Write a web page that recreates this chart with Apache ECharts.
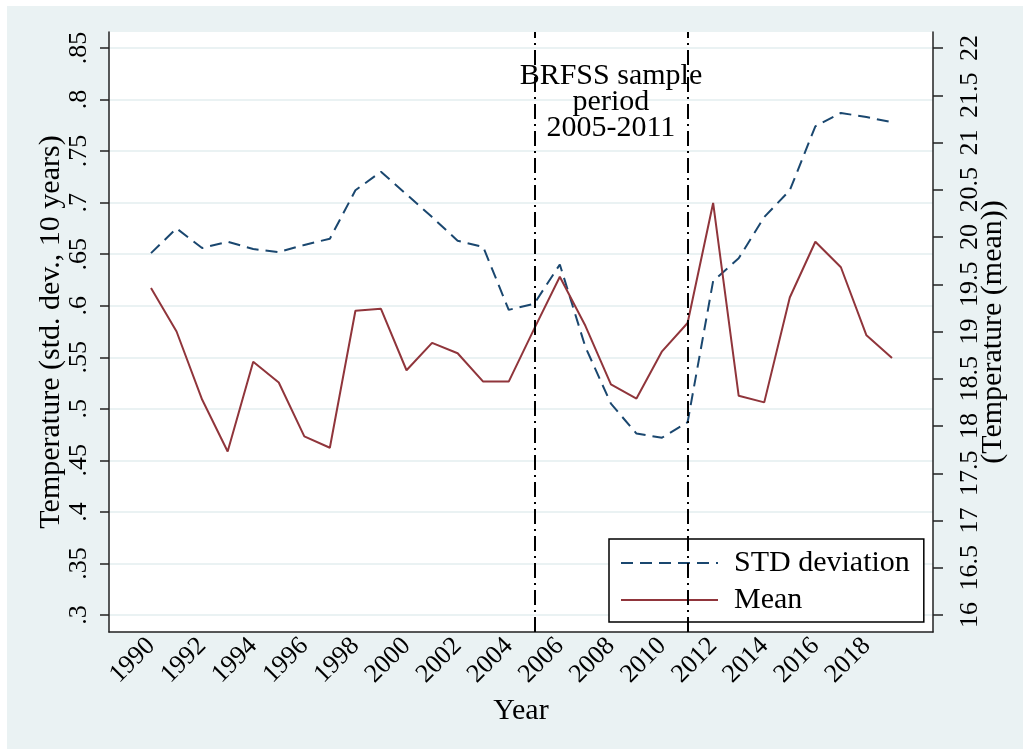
<!DOCTYPE html>
<html>
<head>
<meta charset="utf-8">
<script src="https://cdn.jsdelivr.net/npm/echarts@6/dist/echarts.min.js"></script>
<style>
  html, body { margin: 0; padding: 0; background: #fff; }
  #chart { width: 1023px; height: 749px; }
</style>
</head>
<body>
<div id="chart"></div>
<script>
// data
const years = [1990, 1991, 1992, 1993, 1994, 1995, 1996, 1997, 1998, 1999,
               2000, 2001, 2002, 2003, 2004, 2005, 2006, 2007, 2008, 2009,
               2010, 2011, 2012, 2013, 2014, 2015, 2016, 2017, 2018, 2019];
const stdDev = [0.651, 0.675, 0.656, 0.662, 0.655, 0.652, 0.659, 0.665, 0.712, 0.730,
                0.708, 0.686, 0.663, 0.657, 0.596, 0.602, 0.640, 0.560, 0.505, 0.476,
                0.472, 0.487, 0.624, 0.646, 0.686, 0.712, 0.774, 0.787, 0.783, 0.778];
const meanTemp = [19.46, 19.00, 18.28, 17.73, 18.68, 18.46, 17.89, 17.77, 19.22, 19.24,
                  18.59, 18.88, 18.77, 18.47, 18.47, 19.03, 19.58, 19.06, 18.44, 18.29,
                  18.79, 19.09, 20.36, 18.32, 18.25, 19.36, 19.95, 19.68, 18.96, 18.72];
const periodYears = [2005, 2011];
const periodNote = ['BRFSS sample', 'period', '2005-2011'];
const seriesNames = ['STD deviation', 'Mean'];

const FONT = 'Liberation Serif';
const NAVY = '#1A476F';
const MAROON = '#90353B';
const PANEL = '#EAF2F3';
const AXIS = '#222';

// full plot region in years (1990 sits 42px right of the left edge, 25.55px per year)
const X0 = 1990 - 42 / 25.55;
const X1 = 2019 + 41 / 25.55;

const chart = echarts.init(document.getElementById('chart'));

const option = {
  backgroundColor: '#fff',
  animation: false,
  textStyle: { fontFamily: FONT, color: '#000' },
  graphic: [{
    type: 'rect', z: -10, silent: true,
    shape: { x: 7, y: 6, width: 1016, height: 743 },
    style: { fill: PANEL }
  }],
  grid: [
    // frame / plot region
    { left: 109, right: 90, top: 32, bottom: 117, show: true, backgroundColor: '#fff', borderWidth: 0 },
    // data area (tick range .3-.85 / 16-22)
    { left: 109, right: 90, top: 48, bottom: 134 },
    // year labels 1990-2018
    { left: 151, right: 156.5, top: 32, bottom: 117 }
  ],
  xAxis: [
    {
      gridIndex: 0, type: 'value', min: X0, max: X1, position: 'bottom',
      axisLine: { show: true, onZero: false, lineStyle: { color: AXIS, width: 1.5 } },
      axisTick: { show: false }, axisLabel: { show: false }, splitLine: { show: false },
      name: 'Year', nameLocation: 'middle', nameGap: 64,
      nameTextStyle: { fontFamily: FONT, fontSize: 30, color: '#000' }
    },
    { gridIndex: 1, type: 'value', min: X0, max: X1, show: false },
    {
      gridIndex: 2, type: 'value', min: 1990, max: 2018, interval: 2, position: 'bottom',
      axisLine: { show: false }, axisTick: { show: false }, splitLine: { show: false },
      axisLabel: {
        rotate: 45, margin: 10, fontFamily: FONT, fontSize: 26, color: '#000',
        showMinLabel: true, showMaxLabel: true,
        formatter: v => String(v)
      }
    }
  ],
  yAxis: [
    {
      gridIndex: 0, type: 'value', min: 0, max: 1, position: 'left',
      axisLine: { show: true, onZero: false, lineStyle: { color: AXIS, width: 1.5 } },
      axisTick: { show: false }, axisLabel: { show: false }, splitLine: { show: false },
      name: 'Temperature (std. dev., 10 years)', nameLocation: 'middle', nameGap: 43,
      nameTextStyle: { fontFamily: FONT, fontSize: 30, color: '#000' }
    },
    {
      gridIndex: 0, type: 'value', min: 0, max: 1, position: 'right',
      axisLine: { show: true, onZero: false, lineStyle: { color: AXIS, width: 1.5 } },
      axisTick: { show: false }, axisLabel: { show: false }, splitLine: { show: false },
      name: '(Temperature (mean))', nameLocation: 'middle', nameGap: 45,
      nameTextStyle: { fontFamily: FONT, fontSize: 30, color: '#000' }
    },
    {
      gridIndex: 1, type: 'value', min: 0.3, max: 0.85, interval: 0.05, position: 'left',
      axisLine: { show: false },
      axisTick: { show: true, length: 9, lineStyle: { color: AXIS, width: 1.5 } },
      axisLabel: {
        rotate: 90, margin: 17, fontFamily: FONT, fontSize: 26, color: '#000',
        showMinLabel: true, showMaxLabel: true,
        formatter: v => v.toFixed(2).replace(/0$/, '').replace(/^0/, '')
      },
      splitLine: { show: true, lineStyle: { color: PANEL, width: 2 } }
    },
    {
      gridIndex: 1, type: 'value', min: 16, max: 22, interval: 0.5, position: 'right',
      axisLine: { show: false },
      axisTick: { show: true, length: 10, lineStyle: { color: AXIS, width: 1.5 } },
      axisLabel: {
        rotate: 90, margin: 24, fontFamily: FONT, fontSize: 26, color: '#000',
        showMinLabel: true, showMaxLabel: true
      },
      splitLine: { show: false }
    },
    { gridIndex: 2, type: 'value', min: 0, max: 1, show: false }
  ],
  legend: {
    data: seriesNames,
    orient: 'vertical',
    left: 609, top: 539,
    backgroundColor: '#fff',
    borderColor: '#000', borderWidth: 1.5, borderRadius: 0,
    padding: [9, 14, 7, 11],
    itemWidth: 97, itemHeight: 20, itemGap: 7,
    itemStyle: { opacity: 0 },
    textStyle: { fontFamily: FONT, fontSize: 30, color: '#000', padding: [0, 0, 0, 11] }
  },
  series: [
    {
      name: seriesNames[0], type: 'line', xAxisIndex: 1, yAxisIndex: 2,
      symbol: 'none', z: 3,
      lineStyle: { color: NAVY, width: 2, type: [12, 7] },
      itemStyle: { color: NAVY },
      data: years.map((y, i) => [y, stdDev[i]]),
      markPoint: {
        silent: true,
        symbol: 'circle', symbolSize: 1,
        itemStyle: { color: 'rgba(0,0,0,0)' },
        label: {
          show: true, position: 'inside', align: 'center', verticalAlign: 'middle',
          offset: [0, 3],
          fontFamily: FONT, fontSize: 30, lineHeight: 26, color: '#000',
          formatter: periodNote.join('\n')
        },
        data: [{ coord: [2008, 0.8] }]
      }
    },
    {
      name: seriesNames[1], type: 'line', xAxisIndex: 1, yAxisIndex: 3,
      symbol: 'none', z: 3,
      lineStyle: { color: MAROON, width: 2 },
      itemStyle: { color: MAROON },
      data: years.map((y, i) => [y, meanTemp[i]])
    },
    {
      type: 'line', xAxisIndex: 0, yAxisIndex: 0, data: [], z: 2,
      markLine: {
        silent: true, symbol: 'none',
        label: { show: false },
        lineStyle: { color: '#000', width: 2, type: [15, 5, 2, 5] },
        data: periodYears.map(y => ({ xAxis: y }))
      }
    }
  ]
};

chart.setOption(option);
</script>
</body>
</html>
